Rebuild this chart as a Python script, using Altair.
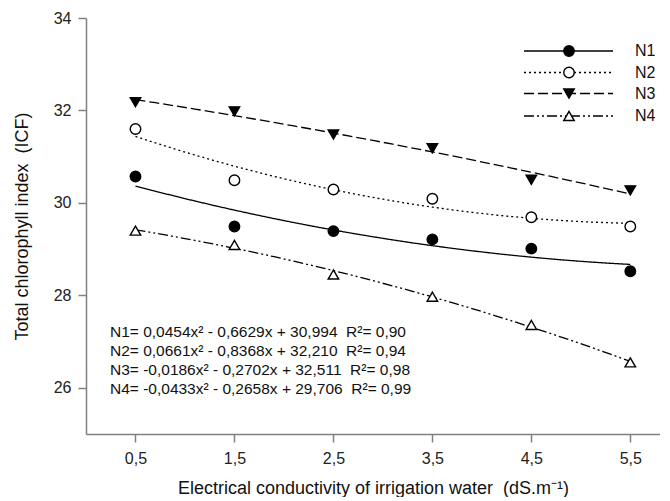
import altair as alt
import pandas as pd

# ---- data ----
ec = [0.5, 1.5, 2.5, 3.5, 4.5, 5.5]
n1 = [30.57, 29.49, 29.39, 29.21, 29.01, 28.52]
n2 = [31.60, 30.49, 30.29, 30.09, 29.69, 29.49]
n3 = [32.18, 31.98, 31.48, 31.18, 30.50, 30.27]
n4 = [29.40, 29.09, 28.45, 27.97, 27.36, 26.55]
series_names = ["N1", "N2", "N3", "N4"]
x_ticks = [0.5, 1.5, 2.5, 3.5, 4.5, 5.5]
y_ticks = [26, 28, 30, 32, 34]
equations = [
    "N1= 0,0454x² - 0,6629x + 30,994\u00a0\u00a0R²= 0,90",
    "N2= 0,0661x² - 0,8368x + 32,210\u00a0\u00a0R²= 0,94",
    "N3= -0,0186x² - 0,2702x + 32,511\u00a0\u00a0R²= 0,98",
    "N4= -0,0433x² - 0,2658x + 29,706\u00a0\u00a0R²= 0,99",
]

rows = []
for name, vals in zip(series_names, [n1, n2, n3, n4]):
    for x, v in zip(ec, vals):
        rows.append({"series": name, "ec": x, "val": v})
df = pd.DataFrame(rows)

FONT = "Liberation Sans"
shapes = ["circle", "circle", "triangle-down", "triangle-up"]
fills = ["black", "white", "black", "white"]
dashes = [[1, 0], [2, 3], [10, 4], [10, 3, 2, 3, 2, 3]]

xscale = alt.Scale(domain=[0, 5.8], nice=False, zero=False)
yscale = alt.Scale(domain=[25, 34], nice=False, zero=False)

X = alt.X("ec:Q", scale=xscale,
          title="Electrical conductivity of irrigation water\u00a0 (dS.m\u207b\u00b9)",
          axis=alt.Axis(values=x_ticks, grid=False, tickSize=8, labelPadding=8,
                        titlePadding=13,
                        labelExpr="replace(format(datum.value, '.1f'), '.', ',')"))
Y = alt.Y("val:Q", scale=yscale, title="Total chlorophyll index\u00a0 (ICF)",
          axis=alt.Axis(values=y_ticks, grid=False, tickSize=8, labelPadding=7,
                        titlePadding=22))

dash_enc = alt.StrokeDash("series:N", scale=alt.Scale(domain=series_names, range=dashes), legend=None)

fits = alt.Chart(df).transform_regression(
    "ec", "val", groupby=["series"], method="poly", order=2, extent=[0.5, 5.5]
).mark_line(color="black", strokeWidth=1.3).encode(x=X, y=Y, strokeDash=dash_enc)

points = alt.Chart(df).mark_point(size=110, strokeWidth=1.4, opacity=1, filled=False, stroke="black").encode(
    x=X, y=Y,
    shape=alt.Shape("series:N", scale=alt.Scale(domain=series_names, range=shapes), legend=None),
    fill=alt.Fill("series:N", scale=alt.Scale(domain=series_names, range=fills), legend=None),
)

# manual legend (top right)
leg_layers = []
leg_rows = [33, 54.5, 75.5, 98]
for i, name in enumerate(series_names):
    one = pd.DataFrame({"series": [name]})
    ry = leg_rows[i]
    leg_layers.append(alt.Chart(one).mark_rule(color="black", strokeWidth=1.3, strokeDash=dashes[i]).encode(
        x=alt.value(438), x2=alt.value(527), y=alt.value(ry)))
    leg_layers.append(alt.Chart(one).mark_point(size=110, strokeWidth=1.4, opacity=1, shape=shapes[i],
                                                fill=fills[i], stroke="black").encode(
        x=alt.value(483), y=alt.value(ry)))
    leg_layers.append(alt.Chart(one).mark_text(align="left", baseline="middle", font=FONT, fontSize=16,
                                               color="#111").encode(
        x=alt.value(549), y=alt.value(ry), text="series:N"))

eq_layer = alt.Chart(pd.DataFrame({"k": [0]})).mark_text(
    text=equations, align="left", baseline="top", font=FONT, fontSize=15.5, lineHeight=19, color="#111"
).encode(x=alt.value(24), y=alt.value(307))

chart = alt.layer(fits, points, eq_layer, *leg_layers).properties(
    width=574, height=416,
    padding={"left": 5, "top": 2, "right": 0, "bottom": 0},
).configure_view(stroke=None).configure_axis(
    domainColor="#808080", tickColor="#808080", domainWidth=1.5, tickWidth=1.5,
    labelFont=FONT, titleFont=FONT, labelFontSize=16, titleFontSize=18,
    labelColor="#222", titleColor="#111", titleFontWeight="normal",
)

chart.save("out.html", embed_options={"renderer": "svg", "actions": False})
